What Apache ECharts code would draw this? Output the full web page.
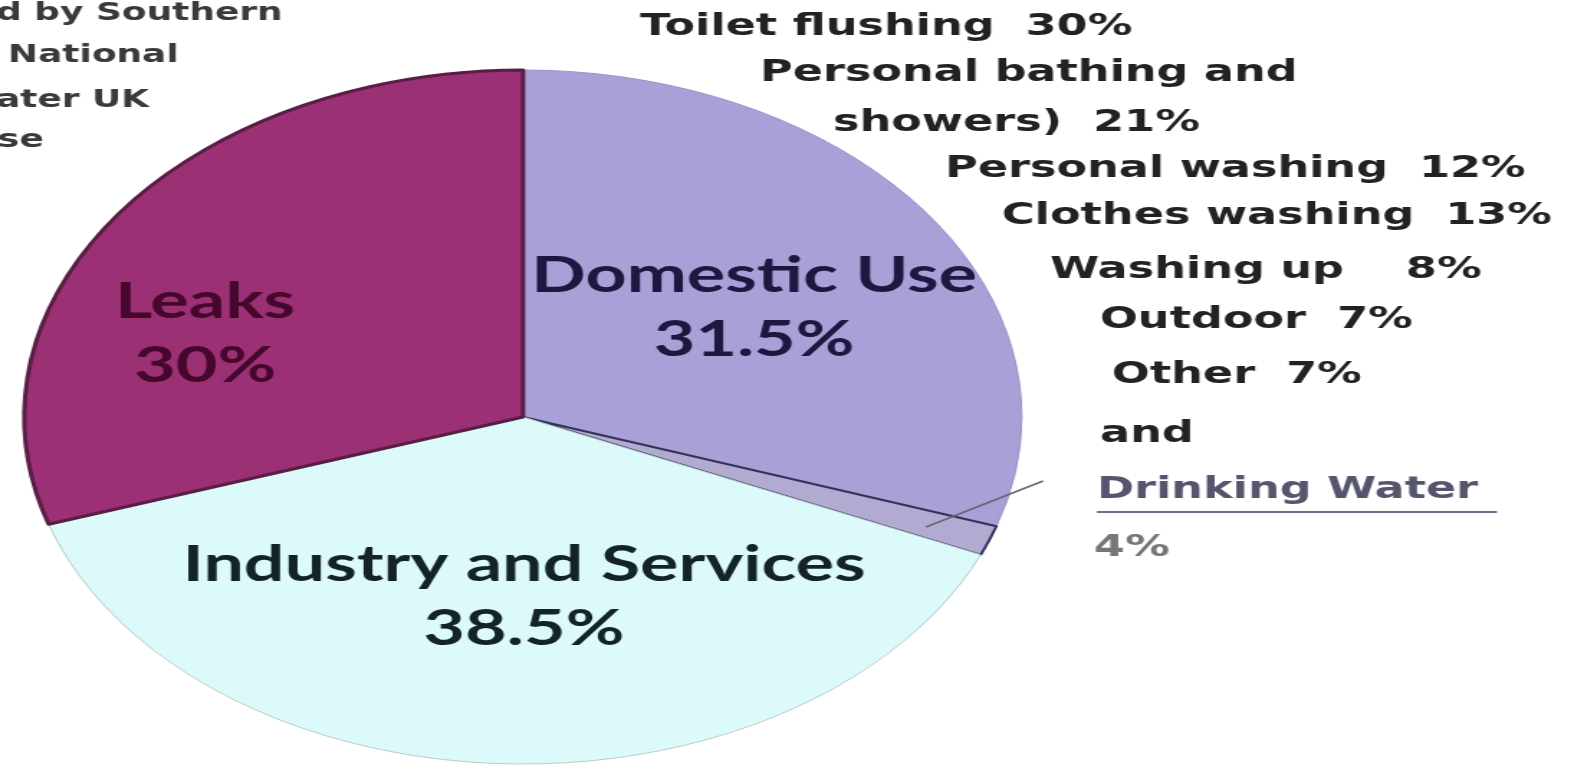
<!DOCTYPE html>
<html>
<head>
<meta charset="utf-8">
<script src="https://cdn.jsdelivr.net/npm/echarts@6/dist/echarts.min.js"></script>
<style>
html,body{margin:0;padding:0;background:#fff;overflow:hidden;width:1574px;height:771px;}
#chart{width:1095px;height:771px;transform:scaleX(1.4374);transform-origin:0 0;}
</style>
</head>
<body>
<div id="chart"></div>
<script>
// ---- data ----
var categories = ['Domestic Use', 'Drinking Water', 'Industry and Services', 'Leaks'];
var values = [30.1, 1.4, 38.5, 30];
var shownPercents = ['31.5%', '', '38.5%', '30%'];
var domesticItems = ['Toilet flushing  30%', 'Personal bathing and', 'showers)  21%', 'Personal washing  12%',
  'Clothes washing  13%', 'Washing up    8%', 'Outdoor  7%', 'Other  7%', 'and'];
var drinkingLabel = 'Drinking Water';
var drinkingPercent = '4%';
var sourceLines = ['d by Southern', 'National', 'ater UK', 'se'];

// ---- layout ----
var S = 1.4374;
function X(x) { return x / S; }
var colors = ['#A8A0D6', '#B1ABD2', '#DDFAFA', '#9C3074'];
var borders = ['#9a93c6', '#35325a', '#b9cccc', '#5a1d45'];
var borderW = [1, 2, 1, 3];
var textColors = ['#1c1840', '#1c1840', '#142424', '#45082c'];
var labelPos = [[X(754), 308], null, [X(524), 597], [X(205), 334]];

var listLeft = [640, 760, 833, 945, 1002, 1050, 1100, 1112, 1100];
var listY = [30, 76, 126, 172, 219, 273, 323, 378, 437];
var srcLeft = [-4, 8, -4, -2];
var srcY = [16, 58, 103, 143];

var chart = echarts.init(document.getElementById('chart'), null, {renderer: 'canvas'});

var FONT = 'bold 31px "DejaVu Sans"';
var graphics = [];
domesticItems.forEach(function (t, i) {
  graphics.push({
    type: 'text', left: X(listLeft[i]), top: listY[i] - 19, z: 100,
    style: {text: t, font: FONT, fill: '#222222'}
  });
});
graphics.push({
  type: 'text', left: X(1097), top: 493 - 19, z: 100,
  style: {text: drinkingLabel, font: FONT, fill: '#55556e'}
});
graphics.push({
  type: 'line', z: 100, shape: {x1: X(1097), y1: 512, x2: X(1497), y2: 512},
  style: {stroke: '#6c6c8a', lineWidth: 2}
});
graphics.push({
  type: 'text', left: X(1094), top: 551 - 19, z: 100,
  style: {text: drinkingPercent, font: FONT, fill: '#777777'}
});
graphics.push({
  type: 'line', z: 100, shape: {x1: X(926), y1: 527, x2: X(1043), y2: 481},
  style: {stroke: '#666677', lineWidth: 1.5}
});
sourceLines.forEach(function (t, i) {
  graphics.push({
    type: 'text', left: X(srcLeft[i]), top: srcY[i] - 15, z: 100,
    style: {text: t, font: 'bold 25px "DejaVu Sans"', fill: '#3a3a3a'}
  });
});

var option = {
  animation: false,
  backgroundColor: '#ffffff',
  series: [{
    type: 'pie',
    center: [X(523), 417],
    radius: 347,
    startAngle: 90,
    clockwise: true,
    data: categories.map(function (c, i) {
      return {
        name: c, value: values[i],
        itemStyle: {color: colors[i], borderColor: borders[i], borderWidth: borderW[i]},
        label: {show: i !== 1, color: textColors[i]}
      };
    }),
    label: {
      position: 'inside',
      fontFamily: 'Lato',
      fontWeight: 'bold',
      fontSize: 50,
      lineHeight: 64,
      formatter: function (p) { return p.name + '\n' + shownPercents[p.dataIndex]; }
    },
    labelLine: {show: false},
    labelLayout: function (p) {
      var pos = labelPos[p.dataIndex];
      if (!pos) return {};
      return {x: pos[0], y: pos[1], align: 'center', verticalAlign: 'middle'};
    },
    emphasis: {disabled: true}
  }],
  graphic: graphics
};
chart.setOption(option);
</script>
</body>
</html>
